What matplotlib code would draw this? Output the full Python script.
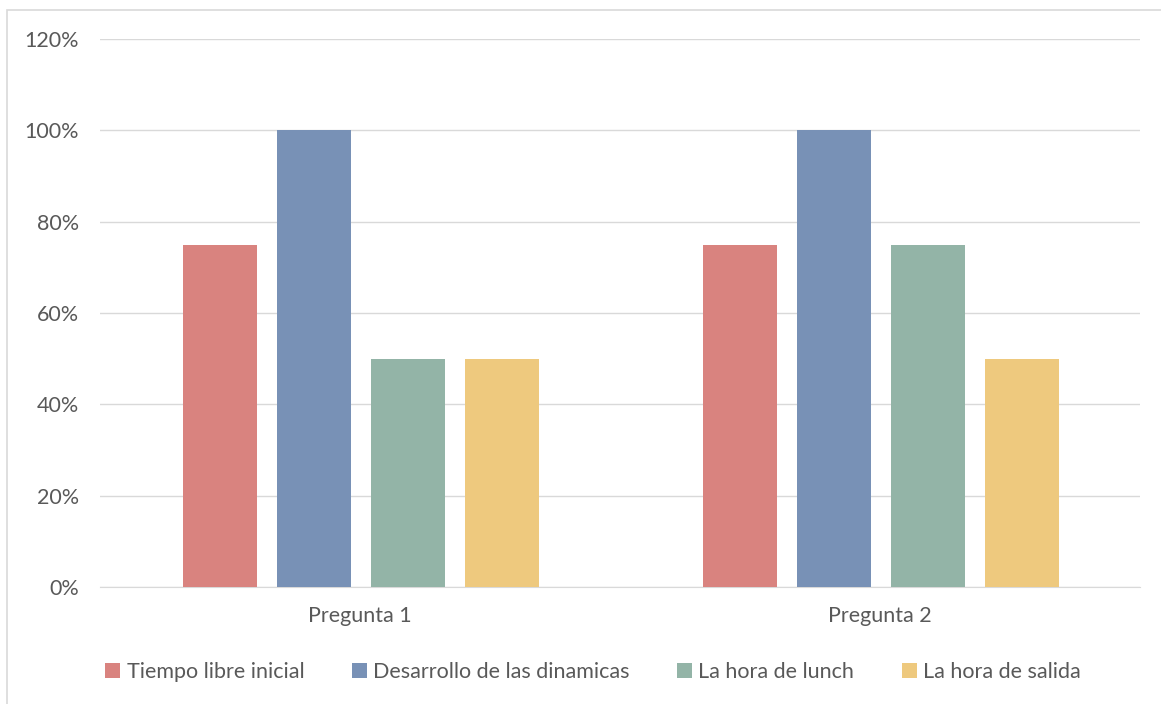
import numpy as np
import matplotlib
matplotlib.use("Agg")
import matplotlib.pyplot as plt
from matplotlib.ticker import FuncFormatter
from matplotlib.patches import Rectangle

categories = ["Pregunta 1", "Pregunta 2"]
series = ["Tiempo libre inicial", "Desarrollo de las dinamicas", "La hora de lunch", "La hora de salida"]
values = {
    "Tiempo libre inicial": [0.75, 0.75],
    "Desarrollo de las dinamicas": [1.00, 1.00],
    "La hora de lunch": [0.50, 0.75],
    "La hora de salida": [0.50, 0.50],
}
colors = ["#D9837F", "#7891B6", "#93B4A7", "#EEC97E"]

plt.rcParams["font.family"] = ["Lato", "DejaVu Sans"]
text_color = "#595959"

fig = plt.figure(figsize=(11.61, 7.04), dpi=100)
fig.patches.append(Rectangle((7 / 1161, -0.1), 1.2, 1 - 10 / 704 + 0.1, transform=fig.transFigure,
                             fill=False, edgecolor="#D9D9D9", linewidth=1.2))
ax = fig.add_axes([100 / 1161, 1 - 587 / 704, 1040 / 1161, 548 / 704])

x = np.arange(len(categories))
width = 0.142
step = 0.181
for i, s in enumerate(series):
    ax.bar(x + (i - 1.5) * step + 0.002, values[s], width, color=colors[i], label=s, zorder=3)

ax.set_xlim(-0.5, 1.5)
ax.set_ylim(0, 1.2)
ax.set_yticks(np.arange(0, 1.21, 0.2))
ax.yaxis.set_major_formatter(FuncFormatter(lambda v, p: f"{v * 100:.0f}%"))
ax.set_xticks(x)
ax.set_xticklabels(categories)
ax.grid(axis="y", color="#D9D9D9", linewidth=1, zorder=0)
for sp in ["top", "right", "left"]:
    ax.spines[sp].set_visible(False)
ax.spines["bottom"].set_color("#D9D9D9")
ax.tick_params(axis="both", length=0, colors=text_color, labelsize=15.5)
ax.tick_params(axis="y", pad=15)
ax.tick_params(axis="x", pad=14)

leg = fig.legend(loc="center", bbox_to_anchor=(593 / 1161, 1 - 672 / 704), ncol=4, frameon=False,
                 fontsize=15.5, handlelength=0.7, handleheight=0.7, handletextpad=0.3, columnspacing=2.2)
for t in leg.get_texts():
    t.set_color(text_color)

fig.savefig("out.png", dpi=100)
